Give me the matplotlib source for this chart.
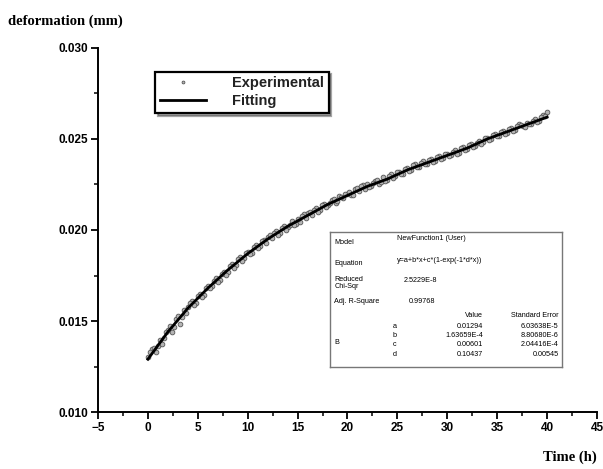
import matplotlib
matplotlib.use("Agg")
import matplotlib.pyplot as plt
from matplotlib.ticker import MultipleLocator
import numpy as np

# fitted curve, every 2 h
fit_t = [0, 2, 4, 6, 8, 10, 12, 14, 16, 18, 20, 22, 24, 26, 28, 30, 32, 34, 36, 38, 40]
fit_y = [0.0129, 0.0144, 0.0157, 0.0168, 0.0178, 0.0187, 0.0195, 0.0202, 0.0208, 0.0214,
         0.0219, 0.0224, 0.0228, 0.0233, 0.0237, 0.0241, 0.0245, 0.0250, 0.0254, 0.0258, 0.0262]

# experimental points, sampled every 0.2 h (two interleaved runs of readings)
exp_t_a = np.arange(0, 40.01, 0.4)
exp_y_a = [0.01300, 0.01345, 0.01330, 0.01395, 0.01405,
           0.01452, 0.01440, 0.01510, 0.01485, 0.01560,
           0.01575, 0.01610, 0.01600, 0.01650, 0.01645,
           0.01695, 0.01690, 0.01735, 0.01725, 0.01770,
           0.01770, 0.01815, 0.01805, 0.01850, 0.01845,
           0.01880, 0.01875, 0.01920, 0.01910, 0.01945,
           0.01962, 0.01955, 0.01995, 0.01985, 0.02020,
           0.02015, 0.02050, 0.02035, 0.02045, 0.02090,
           0.02095, 0.02085, 0.02120, 0.02110, 0.02145,
           0.02135, 0.02165, 0.02150, 0.02185, 0.02175,
           0.02200, 0.02190, 0.02225, 0.02215, 0.02245,
           0.02250, 0.02240, 0.02270, 0.02255, 0.02290,
           0.02275, 0.02305, 0.02295, 0.02320, 0.02310,
           0.02340, 0.02330, 0.02360, 0.02345, 0.02380,
           0.02365, 0.02390, 0.02380, 0.02405, 0.02395,
           0.02420, 0.02410, 0.02440, 0.02425, 0.02455,
           0.02445, 0.02470, 0.02460, 0.02490, 0.02485,
           0.02505, 0.02500, 0.02530, 0.02515, 0.02545,
           0.02535, 0.02560, 0.02550, 0.02580, 0.02570,
           0.02590, 0.02580, 0.02610, 0.02600, 0.02630,
           0.02650]
exp_t_b = np.arange(0.2, 40.0, 0.4)
exp_y_b = [0.01330, 0.01350, 0.01360, 0.01375, 0.01440,
           0.01470, 0.01465, 0.01525, 0.01520, 0.01545,
           0.01600, 0.01590, 0.01640, 0.01630, 0.01680,
           0.01680, 0.01720, 0.01715, 0.01760, 0.01755,
           0.01800, 0.01790, 0.01840, 0.01830, 0.01875,
           0.01870, 0.01905, 0.01900, 0.01940, 0.01930,
           0.01970, 0.01985, 0.01975, 0.02010, 0.02000,
           0.02030, 0.02025, 0.02060, 0.02075, 0.02065,
           0.02100, 0.02110, 0.02100, 0.02135, 0.02125,
           0.02150, 0.02170, 0.02160, 0.02180, 0.02200,
           0.02210, 0.02195, 0.02230, 0.02240, 0.02225,
           0.02235, 0.02260, 0.02275, 0.02265, 0.02270,
           0.02295, 0.02285, 0.02320, 0.02310, 0.02335,
           0.02325, 0.02355, 0.02345, 0.02370, 0.02360,
           0.02385, 0.02375, 0.02400, 0.02390, 0.02415,
           0.02405, 0.02430, 0.02420, 0.02450, 0.02440,
           0.02465, 0.02455, 0.02480, 0.02475, 0.02505,
           0.02495, 0.02520, 0.02515, 0.02540, 0.02530,
           0.02555, 0.02545, 0.02570, 0.02575, 0.02565,
           0.02580, 0.02600, 0.02595, 0.02620, 0.02625]

# fit results table
tbl_model = "NewFunction1 (User)"
tbl_equation = "y=a+b*x+c*(1-exp(-1*d*x))"
tbl_chi = "2.5229E-8"
tbl_r2 = "0.99768"
tbl_params = ["a", "b", "c", "d"]
tbl_values = ["0.01294", "1.63659E-4", "0.00601", "0.10437"]
tbl_errors = ["6.03638E-5", "8.80680E-6", "2.04416E-4", "0.00545"]

tick_font = {"family": "Liberation Sans", "weight": "bold", "size": 8.5}
label_font = {"family": "Liberation Serif", "weight": "bold", "size": 10.5}

fig = plt.figure(figsize=(6.03, 4.69), dpi=100)
ax = fig.add_axes([0.1625, 0.1215, 0.8275, 0.7762])

exp_t = np.concatenate([exp_t_a, exp_t_b])
exp_y = np.concatenate([exp_y_a, exp_y_b])
ax.plot(exp_t, exp_y, linestyle="none", marker="o", markersize=3.4,
        markerfacecolor="#b4b4b4", markeredgecolor="#555555", markeredgewidth=0.6,
        label="Experimental", zorder=2)
ax.plot(fit_t, fit_y, color="black", linewidth=2.0, label="Fitting", zorder=3)

ax.set_xlim(-5, 45)
ax.set_ylim(0.010, 0.030)
ax.xaxis.set_major_locator(MultipleLocator(5))
ax.xaxis.set_minor_locator(MultipleLocator(2.5))
ax.yaxis.set_major_locator(MultipleLocator(0.005))
ax.yaxis.set_minor_locator(MultipleLocator(0.0025))
ax.yaxis.set_major_formatter(plt.FormatStrFormatter("%.3f"))

for s in ["top", "right"]:
    ax.spines[s].set_visible(False)
for s in ["left", "bottom"]:
    ax.spines[s].set_linewidth(1.4)
ax.tick_params(which="major", direction="out", length=5, width=1.3, pad=2)
ax.tick_params(which="minor", direction="out", length=3, width=1.1)
for lbl in ax.get_xticklabels() + ax.get_yticklabels():
    lbl.set_fontfamily(tick_font["family"])
    lbl.set_fontweight(tick_font["weight"])
    lbl.set_fontsize(tick_font["size"])

fig.text(0.013, 0.955, "deformation (mm)", ha="left", va="center", **label_font)
fig.text(0.99, 0.025, "Time (h)", ha="right", va="center", **label_font)

leg = ax.legend(loc="upper left", bbox_to_anchor=(0.1, 0.955), frameon=True,
                fancybox=False, shadow=True, borderpad=0.3, handlelength=3.2,
                handletextpad=1.8, labelspacing=0.3, markerscale=0.6,
                prop={"family": "Liberation Sans", "weight": "bold", "size": 10.5})
leg.get_frame().set_edgecolor("black")
leg.get_frame().set_linewidth(1.6)
for t in leg.get_texts():
    t.set_color("#222222")

# inset table with fit results
tab = fig.add_axes([0.547, 0.217, 0.385, 0.288])
tab.set_xlim(0, 1)
tab.set_ylim(0, 1)
tab.set_xticks([])
tab.set_yticks([])
for s in tab.spines.values():
    s.set_color("#777777")
    s.set_linewidth(1.0)
tab.set_zorder(5)
fs = 5.2
tf = "Liberation Sans"
tab.text(0.02, 0.92, "Model", fontsize=fs, family=tf, va="center")
tab.text(0.29, 0.95, tbl_model, fontsize=fs, family=tf, va="center")
tab.text(0.02, 0.77, "Equation", fontsize=fs, family=tf, va="center")
tab.text(0.29, 0.79, tbl_equation, fontsize=fs, family=tf, va="center")
tab.text(0.02, 0.625, "Reduced\nChi-Sqr", fontsize=fs, family=tf, va="center", linespacing=0.9)
tab.text(0.32, 0.64, tbl_chi, fontsize=fs, family=tf, va="center")
tab.text(0.02, 0.49, "Adj. R-Square", fontsize=fs, family=tf, va="center")
tab.text(0.34, 0.49, tbl_r2, fontsize=fs, family=tf, va="center")
tab.text(0.66, 0.38, "Value", fontsize=fs, family=tf, va="center", ha="right")
tab.text(0.985, 0.38, "Standard Error", fontsize=fs, family=tf, va="center", ha="right")
row_y = [0.305, 0.235, 0.165, 0.095]
for p, v, e, yy in zip(tbl_params, tbl_values, tbl_errors, row_y):
    tab.text(0.27, yy, p, fontsize=fs, family=tf, va="center")
    tab.text(0.66, yy, v, fontsize=fs, family=tf, va="center", ha="right")
    tab.text(0.985, yy, e, fontsize=fs, family=tf, va="center", ha="right")
tab.text(0.02, 0.18, "B", fontsize=fs, family=tf, va="center")

fig.savefig("out.png", dpi=100)
